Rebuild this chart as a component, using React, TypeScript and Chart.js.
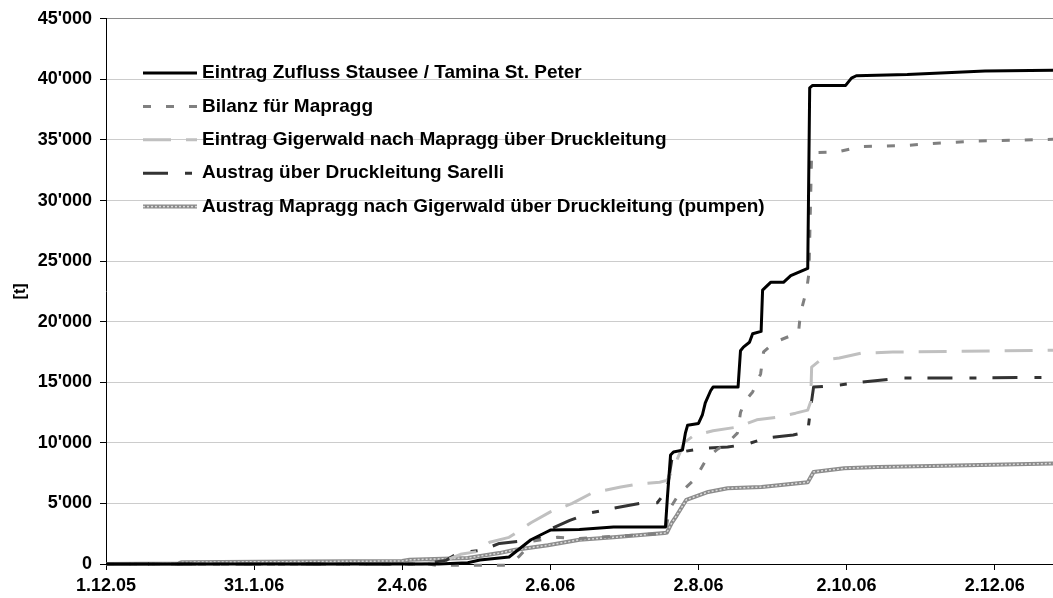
import React, { useEffect, useRef } from "react";
import { Chart, registerables } from "chart.js";

Chart.register(...registerables);

// x axis: days since 1.12.05
const xTickDays = [0, 61, 122, 183, 244, 305, 366];
const xTickLabels = ["1.12.05", "31.1.06", "2.4.06", "2.6.06", "2.8.06", "2.10.06", "2.12.06"];
const yTickValues = [0, 5000, 10000, 15000, 20000, 25000, 30000, 35000, 40000, 45000];
const yTickLabels = ["0", "5'000", "10'000", "15'000", "20'000", "25'000", "30'000", "35'000", "40'000", "45'000"];

const seriesLabels = [
  "Eintrag Zufluss Stausee / Tamina St. Peter",
  "Bilanz für Mapragg",
  "Eintrag Gigerwald nach Mapragg über Druckleitung",
  "Austrag über Druckleitung Sarelli",
  "Austrag Mapragg nach Gigerwald über Druckleitung (pumpen)",
];

const zuflussDays = [0, 137, 149, 154, 166, 175, 181, 183, 195, 209, 230.4, 231.2, 232.5, 233.7, 237.4, 238.6, 239.5, 244, 245.6, 246.8, 249, 250, 260.3, 261.3, 262.5, 265, 266.3, 269.8, 270.4, 273.7, 279, 282, 289, 289.8, 291, 304.6, 307, 309, 330, 362, 390];
const zuflussValues = [0, 0, 100, 330, 580, 2000, 2600, 2800, 2850, 3050, 3050, 5500, 9000, 9250, 9400, 10800, 11450, 11600, 12300, 13300, 14300, 14600, 14600, 17600, 17900, 18300, 19000, 19200, 22600, 23250, 23250, 23800, 24400, 39300, 39500, 39500, 40100, 40300, 40400, 40700, 40750];

const bilanzDays = [0, 133, 136, 165, 170, 176, 186, 195, 210, 228, 230.4, 232, 236, 242.5, 247.7, 252, 256, 260, 261.3, 263, 266.3, 269.6, 270.8, 273, 277.8, 285.2, 286, 288.5, 289.5, 290.6, 301, 311, 330, 340, 357, 378, 390];
const bilanzValues = [0, 0, -100, -100, 600, 1900, 2200, 2100, 2300, 2500, 2600, 4500, 5800, 7000, 8800, 9500, 10000, 10800, 12500, 13400, 14200, 15700, 17500, 17900, 18500, 19100, 20700, 22600, 24000, 33950, 34000, 34450, 34550, 34700, 34900, 35000, 35050];

const gigerwaldDays = [0, 130, 140, 146, 152, 158, 166, 175, 183, 192, 200, 212, 219, 228, 231, 233, 236, 238, 242, 250, 260, 268, 276, 284, 289, 290.2, 290.6, 294, 302, 311, 324, 352, 390];
const gigerwaldValues = [0, 0, 300, 800, 1000, 1800, 2200, 3400, 4300, 5000, 5850, 6350, 6600, 6750, 6900, 7600, 9000, 10000, 10600, 11000, 11300, 11900, 12100, 12450, 12700, 13400, 16250, 16800, 17000, 17400, 17500, 17550, 17650];

const sarelliDays = [0, 130, 140, 145, 155, 162, 171, 178, 180, 191, 199, 209, 220, 227, 231, 233, 237, 246, 256, 264, 272, 283, 289, 290.2, 291.4, 301, 311, 327, 352, 380, 390];
const sarelliValues = [0, 0, 300, 900, 1150, 1700, 1900, 2100, 2600, 3600, 4200, 4600, 5000, 5050, 6100, 8600, 9250, 9550, 9650, 9900, 10400, 10650, 10900, 12900, 14600, 14750, 15000, 15350, 15350, 15400, 15400];

const pumpenDays = [0, 30, 31, 80, 122, 125, 149, 162, 168, 182, 195, 209, 230, 231, 233, 235, 239, 248, 256, 270, 289, 291.4, 304, 318, 345, 380, 390];
const pumpenValues = [0, 50, 150, 200, 250, 350, 500, 900, 1150, 1550, 2000, 2200, 2550, 2600, 3400, 4000, 5300, 5950, 6250, 6350, 6750, 7600, 7900, 8000, 8100, 8250, 8300];

const FONT = "'Liberation Sans', Arial, Helvetica, sans-serif";

type Style = { color: string; width: number; dash: number[]; overlay?: { color: string; width: number; dash: number[] } };

const styles: Style[] = [
  { color: "#000000", width: 3, dash: [] },
  { color: "#808080", width: 3, dash: [8, 15] },
  { color: "#c0c0c0", width: 3, dash: [28, 15] },
  { color: "#333333", width: 3, dash: [25, 17, 7, 16] },
  { color: "#8c8c8c", width: 4, dash: [], overlay: { color: "#dadada", width: 1.5, dash: [2, 2] } },
];

const zip = (xs: number[], ys: number[]) => xs.map((x, i) => ({ x, y: ys[i] }));

const legendPlugin = {
  id: "insideLegend",
  afterDatasetsDraw(chart: any) {
    const ctx = chart.ctx as CanvasRenderingContext2D;
    ctx.save();
    const x0 = 143;
    const x1 = 197;
    const textX = 202;
    seriesLabels.forEach((label, i) => {
      const y = 73 + i * 33.4;
      const st = styles[i];
      ctx.beginPath();
      ctx.setLineDash(st.dash);
      ctx.lineCap = "butt";
      ctx.strokeStyle = st.color;
      ctx.lineWidth = st.width;
      ctx.moveTo(x0, y);
      ctx.lineTo(x1, y);
      ctx.stroke();
      if (st.overlay) {
        ctx.beginPath();
        ctx.setLineDash(st.overlay.dash);
        ctx.strokeStyle = st.overlay.color;
        ctx.lineWidth = st.overlay.width;
        ctx.moveTo(x0, y);
        ctx.lineTo(x1, y);
        ctx.stroke();
      }
      ctx.setLineDash([]);
      ctx.fillStyle = "#000";
      ctx.font = `bold 19px ${FONT}`;
      ctx.textBaseline = "middle";
      ctx.textAlign = "left";
      ctx.fillText(label, textX, y);
    });
    ctx.restore();
  },
};

export default function App() {
  const canvasRef = useRef<HTMLCanvasElement | null>(null);

  useEffect(() => {
    const canvas = canvasRef.current;
    if (!canvas) return;
    const mk = (label: string, data: any[], st: { color: string; width: number; dash: number[] }) => ({
      label,
      data,
      borderColor: st.color,
      backgroundColor: st.color,
      borderWidth: st.width,
      borderDash: st.dash,
      borderCapStyle: "butt" as const,
      borderJoinStyle: "round" as const,
      pointRadius: 0,
      fill: false,
      tension: 0,
      clip: 6,
    });
    const datasets = [
      mk(seriesLabels[0], zip(zuflussDays, zuflussValues), styles[0]),
      mk(seriesLabels[1], zip(bilanzDays, bilanzValues), styles[1]),
      mk(seriesLabels[2], zip(gigerwaldDays, gigerwaldValues), styles[2]),
      mk(seriesLabels[3], zip(sarelliDays, sarelliValues), styles[3]),
      mk(seriesLabels[4] + " (pattern)", zip(pumpenDays, pumpenValues), styles[4].overlay!),
      mk(seriesLabels[4], zip(pumpenDays, pumpenValues), styles[4]),
    ];
    const tickFont = { family: FONT, size: 18, weight: "bold" as const };
    const chart = new Chart(canvas, {
      type: "line",
      data: { datasets },
      options: {
        animation: false,
        responsive: false,
        maintainAspectRatio: false,
        layout: { padding: { top: 18, right: 0, bottom: 0, left: 0 } },
        plugins: { legend: { display: false }, tooltip: { enabled: false } },
        scales: {
          x: {
            type: "linear",
            min: 0,
            max: 390,
            afterBuildTicks: (s: any) => {
              s.ticks = xTickDays.map((v) => ({ value: v }));
            },
            afterFit: (s: any) => {
              s.height = 34;
            },
            grid: { drawOnChartArea: false, drawTicks: true, tickLength: 6, tickColor: "#000" },
            border: { color: "#000", width: 1 },
            ticks: {
              autoSkip: false,
              maxRotation: 0,
              color: "#000",
              font: tickFont,
              padding: 5,
              callback: (v: any) => {
                const i = xTickDays.indexOf(Number(v));
                return i >= 0 ? xTickLabels[i] : "";
              },
            },
          },
          y: {
            type: "linear",
            min: 0,
            max: 45000,
            afterBuildTicks: (s: any) => {
              s.ticks = yTickValues.map((v) => ({ value: v }));
            },
            afterFit: (s: any) => {
              s.width = 106;
            },
            grid: {
              color: (c: any) => (c.tick && c.tick.value === 45000 ? "#8a8a8a" : "#cccccc"),
              lineWidth: 1,
              drawTicks: true,
              tickLength: 6,
              tickColor: "#000",
            },
            border: { color: "#000", width: 1 },
            ticks: {
              color: "#000",
              font: tickFont,
              padding: 8,
              callback: (v: any) => {
                const i = yTickValues.indexOf(Number(v));
                return i >= 0 ? yTickLabels[i] : "";
              },
            },
            title: {
              display: true,
              text: "[t]",
              color: "#000",
              font: { family: FONT, size: 16, weight: "bold" as const },
              padding: { top: 11, bottom: 0 },
            },
          },
        },
      },
      plugins: [legendPlugin],
    });
    return () => chart.destroy();
  }, []);

  return (
    <div style={{ position: "fixed", left: 0, top: 0, width: 1053, height: 598, background: "#fff" }}>
      <canvas ref={canvasRef} width={1053} height={598} style={{ display: "block", width: 1053, height: 598 }} />
    </div>
  );
}
